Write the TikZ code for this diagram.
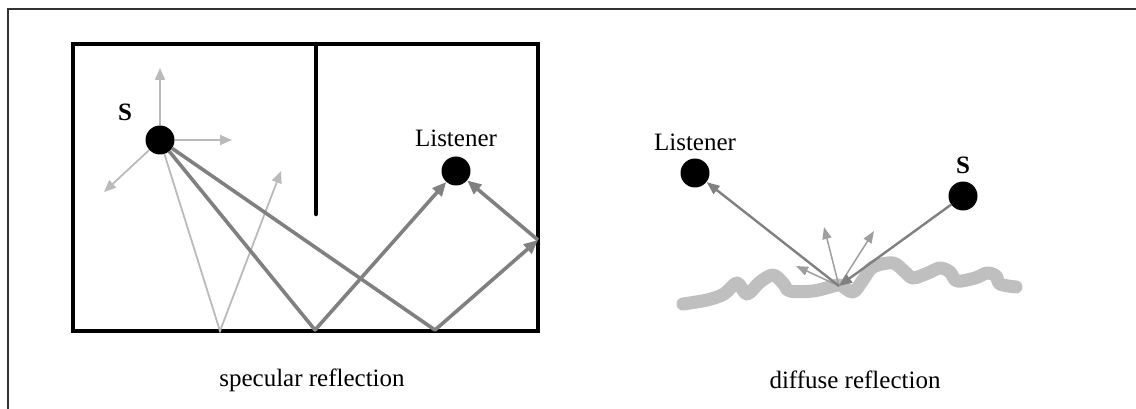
\documentclass[tikz,border=0pt]{standalone}
\usepackage{fontspec}
\setmainfont{Liberation Serif}
\usetikzlibrary{arrows.meta}
\begin{document}
\begin{tikzpicture}[x=1pt,y=-1pt,
  dot/.style={circle,fill=black,minimum size=29pt,inner sep=0pt},
  lbl/.style={font=\fontsize{25}{28}\selectfont,inner sep=0pt},
  slbl/.style={font=\fontsize{25}{28}\selectfont\bfseries,inner sep=0pt},
  wall/.style={line width=4.5pt,line cap=round},
  ray/.style={draw=black!50,line width=3.6pt,line join=round},
  rayarr/.style={ray,-{Triangle[length=14pt,width=12pt]}},
  thin/.style={draw=black!27,line width=1.8pt,-{Triangle[length=12pt,width=10pt]}},
  dthin/.style={draw=black!50,line width=2.4pt,-{Triangle[length=13pt,width=10pt]}},
  mthin/.style={draw=black!38,line width=1.5pt,-{Triangle[length=12pt,width=9pt]}}]
\useasboundingbox (0,0) rectangle (1136,409);
% frame
\draw[line width=1.6pt,draw=black!80] (8,409) -- (8,9) -- (1136,9);
% room
\draw[line width=4.5pt] (73,44) rectangle (538,331);
\draw[wall] (316,44) -- (316,214);
% left panel nodes
\node[dot] (S) at (160,140) {};
\node[slbl] (Sl) at (125,112) {S};
\node[dot] (L) at (456,171) {};
\node[lbl] (Ll) at (456,138) {Listener};
\coordinate (up) at (160,68);
\coordinate (rt) at (232,140);
\coordinate (dl) at (104,192);
\coordinate (b0) at (220,331);
\coordinate (t0) at (281,171);
\coordinate (b1) at (315,330);
\coordinate (b2) at (435,330);
\coordinate (w) at (538,240);
% light rays
\draw[thin] (S) -- (up);
\draw[thin] (S) -- (rt);
\draw[thin] (S) -- (dl);
\draw[thin] (S) -- (b0) -- (t0);
% dark rays
\draw[rayarr] (S) -- (b1) -- (L);
\draw[rayarr] (S) -- (b2) -- (w);
\draw[rayarr] (w) -- (L);
% right panel
\draw[line width=13pt,draw=black!25,line cap=round,line join=round]
  plot[smooth,tension=0.55] coordinates {(683,304) (707,300) (724,294) (737,283) (747,294) (760,282) (773,275) (783,283) (790,291) (813,291) (830,287) (840,285) (853,292) (863,280) (873,267) (893,263) (905,272) (913,278) (928,273) (940,268) (950,272) (957,281) (975,278) (987,273) (996,276) (1000,284) (1016,287)};
\node[dot] (L2) at (695,173) {};
\node[lbl] (L2l) at (695,142) {Listener};
\node[dot] (S2) at (963,196) {};
\node[slbl] (S2l) at (963,165) {S};
\coordinate (R) at (839,286);
\coordinate (a1) at (824,227);
\coordinate (a2) at (874,231);
\coordinate (a3) at (796,266);
\draw[mthin] (R) -- (a1);
\draw[mthin] (R) -- (a2);
\draw[mthin] (R) -- (a3);
\draw[dthin] (S2) -- (R);
\draw[dthin] (R) -- (L2);
% captions
\node[lbl] (c1) at (312,380) {specular reflection};
\node[lbl] (c2) at (855,380) {diffuse reflection};
\end{tikzpicture}
\end{document}
